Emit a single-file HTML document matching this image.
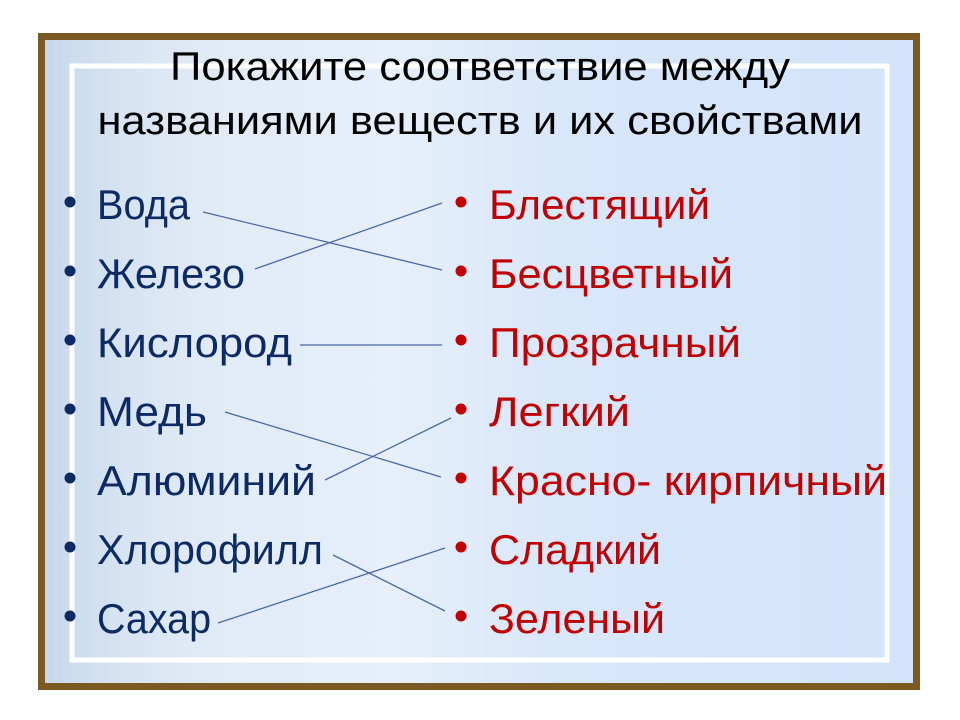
<!DOCTYPE html>
<html><head><meta charset="utf-8"><style>
html,body{margin:0;padding:0;background:#fff;width:960px;height:720px;overflow:hidden}
svg{display:block}
text{font-family:"Liberation Sans","DejaVu Sans",sans-serif}
</style></head><body>
<svg width="960" height="720" viewBox="0 0 960 720" xmlns="http://www.w3.org/2000/svg">
<defs>
<linearGradient id="bg" x1="0" y1="0" x2="1" y2="0">
<stop offset="0" stop-color="#d2e0f0"/>
<stop offset="0.25" stop-color="#e2ecf7"/>
<stop offset="0.4" stop-color="#e6effa"/>
<stop offset="0.6" stop-color="#d8e7fa"/>
<stop offset="1" stop-color="#d3e4fa"/>
</linearGradient>
<linearGradient id="col" x1="0" y1="0" x2="1" y2="0">
<stop offset="0" stop-color="#bfd2e8" stop-opacity="0.6"/>
<stop offset="1" stop-color="#ffffff" stop-opacity="0"/>
</linearGradient>
</defs>
<rect x="38" y="33" width="882" height="657" fill="#7a5a22"/>
<rect x="45" y="40" width="868" height="643" fill="url(#bg)"/>
<rect x="45" y="40" width="230" height="643" fill="url(#col)"/>
<rect x="72" y="66" width="815" height="594" fill="none" stroke="#ffffff" stroke-width="5"/>
<text x="480" y="80" font-size="40" fill="#000" text-anchor="middle" textLength="620" lengthAdjust="spacingAndGlyphs">Покажите соответствие между</text>
<text x="480" y="134" font-size="40" fill="#000" text-anchor="middle" textLength="765" lengthAdjust="spacingAndGlyphs">названиями веществ и их свойствами</text>
<g fill="#0c2a63" font-size="42">
<circle cx="70" cy="202" r="5.5"/><text x="97" y="219" textLength="93" lengthAdjust="spacingAndGlyphs">Вода</text>
<circle cx="70" cy="271" r="5.5"/><text x="97" y="288" textLength="148" lengthAdjust="spacingAndGlyphs">Железо</text>
<circle cx="70" cy="340" r="5.5"/><text x="97" y="357" textLength="195" lengthAdjust="spacingAndGlyphs">Кислород</text>
<circle cx="70" cy="409" r="5.5"/><text x="97" y="426" textLength="110" lengthAdjust="spacingAndGlyphs">Медь</text>
<circle cx="70" cy="478" r="5.5"/><text x="97" y="495" textLength="219" lengthAdjust="spacingAndGlyphs">Алюминий</text>
<circle cx="70" cy="547" r="5.5"/><text x="97" y="564" textLength="226" lengthAdjust="spacingAndGlyphs">Хлорофилл</text>
<circle cx="70" cy="616" r="5.5"/><text x="97" y="633" textLength="114" lengthAdjust="spacingAndGlyphs">Сахар</text>
</g>
<g fill="#c00000" font-size="42">
<circle cx="461" cy="202" r="5.5"/><text x="489" y="219" textLength="221" lengthAdjust="spacingAndGlyphs">Блестящий</text>
<circle cx="461" cy="271" r="5.5"/><text x="489" y="288" textLength="244" lengthAdjust="spacingAndGlyphs">Бесцветный</text>
<circle cx="461" cy="340" r="5.5"/><text x="489" y="357" textLength="252" lengthAdjust="spacingAndGlyphs">Прозрачный</text>
<circle cx="461" cy="409" r="5.5"/><text x="489" y="426" textLength="141" lengthAdjust="spacingAndGlyphs">Легкий</text>
<circle cx="461" cy="478" r="5.5"/><text x="489" y="495" textLength="398" lengthAdjust="spacingAndGlyphs">Красно- кирпичный</text>
<circle cx="461" cy="547" r="5.5"/><text x="489" y="564" textLength="172" lengthAdjust="spacingAndGlyphs">Сладкий</text>
<circle cx="461" cy="616" r="5.5"/><text x="489" y="633" textLength="176" lengthAdjust="spacingAndGlyphs">Зеленый</text>
</g>
<g stroke="#4a69a8" stroke-width="1.3" fill="none">
<line x1="203" y1="212" x2="442" y2="270"/>
<line x1="255" y1="269" x2="442" y2="203"/>
<line x1="300" y1="345" x2="442" y2="345"/>
<line x1="225" y1="412" x2="441" y2="477"/>
<line x1="325" y1="480" x2="451" y2="418"/>
<line x1="333" y1="555" x2="445" y2="611"/>
<line x1="218" y1="623" x2="445" y2="548"/>
</g>
</svg>
</body></html>
